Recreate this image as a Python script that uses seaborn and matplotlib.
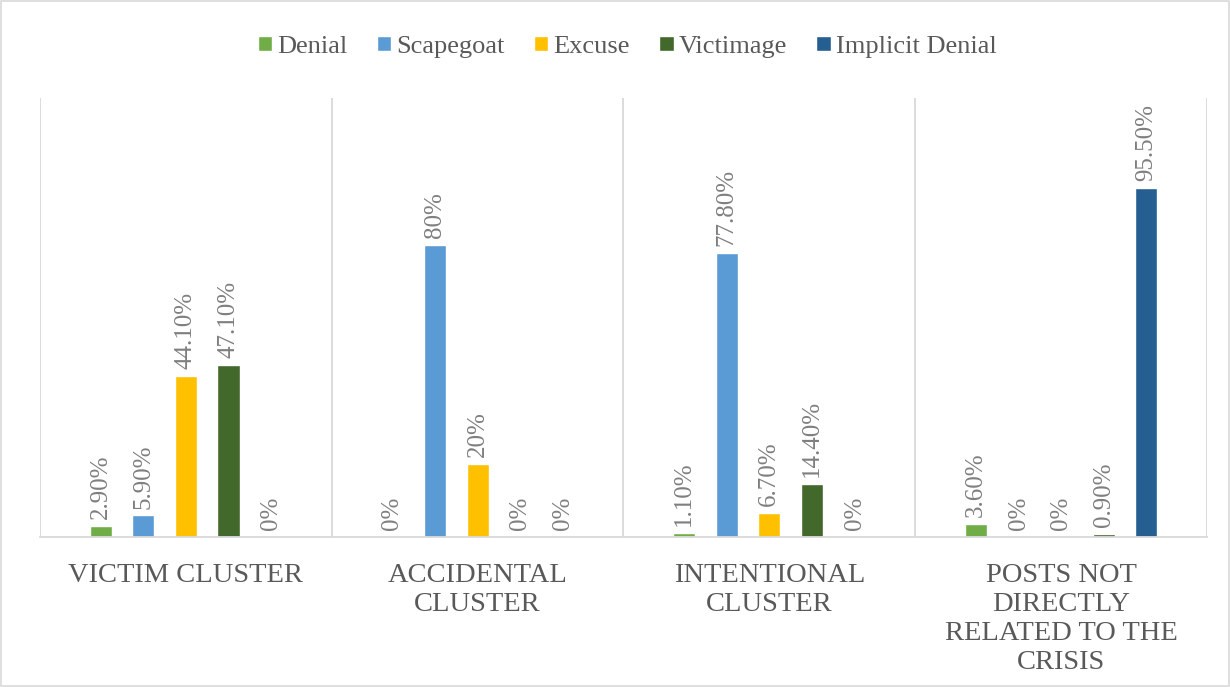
import pandas as pd
import matplotlib.pyplot as plt
import seaborn as sns
from matplotlib.patches import Rectangle

# data
clusters = ["VICTIM CLUSTER", "ACCIDENTAL\nCLUSTER", "INTENTIONAL\nCLUSTER",
            "POSTS NOT\nDIRECTLY\nRELATED TO THE\nCRISIS"]
strategies = ["Denial", "Scapegoat", "Excuse", "Victimage", "Implicit Denial"]
denial = [2.9, 0, 1.1, 3.6]
scapegoat = [5.9, 80, 77.8, 0]
excuse = [44.1, 20, 6.7, 0]
victimage = [47.1, 0, 14.4, 0.9]
implicit_denial = [0, 0, 0, 95.5]
colors = ["#70AD47", "#5B9BD5", "#FFC000", "#43682B", "#255E91"]

series = [denial, scapegoat, excuse, victimage, implicit_denial]
rows = []
for strat, vals in zip(strategies, series):
    for cl, v in zip(clusters, vals):
        rows.append({"cluster": cl, "strategy": strat, "value": v})
df = pd.DataFrame(rows)

sns.set_style("white")
plt.rcParams['font.family'] = ['Liberation Serif', 'DejaVu Serif']
gray = "#595959"
label_gray = "#7F7F7F"
grid = "#D9D9D9"

fig = plt.figure(figsize=(12.3, 6.87), dpi=100)
ax = fig.add_axes([0.0325, 0.2183, 0.9488, 0.6387])

sns.barplot(data=df, x="cluster", y="value", hue="strategy", order=clusters,
            hue_order=strategies, palette=colors, width=0.73, gap=0.48,
            saturation=1, ax=ax)

def fmt(v):
    return f"{v:.0f}%" if float(v).is_integer() else f"{v:.2f}%"

for cont, vals in zip(ax.containers, series):
    ax.bar_label(cont, labels=[fmt(v) for v in vals], rotation=90, padding=5,
                 fontsize=18, color=label_gray)

ax.set_ylim(0, 120)
ax.set_xlim(-0.5, 3.5)
for x in [-0.5, 0.5, 1.5, 2.5, 3.5]:
    ax.axvline(x, color=grid, lw=1.3, zorder=0)

for s in ["top", "left", "right"]:
    ax.spines[s].set_visible(False)
ax.spines["bottom"].set_color(grid)
ax.spines["bottom"].set_linewidth(1.3)
ax.set_yticks([])
ax.set_xlabel("")
ax.set_ylabel("")
ax.tick_params(axis="x", length=0, pad=19)
for lbl in ax.get_xticklabels():
    lbl.set_fontsize(20.5)
    lbl.set_color(gray)
    lbl.set_linespacing(1.2)
    lbl.set_verticalalignment("top")

sns.move_legend(ax, "center", bbox_to_anchor=(0.51, 0.932),
                bbox_transform=fig.transFigure, ncol=5, frameon=False,
                title=None, fontsize=19, handlelength=0.55, handleheight=0.55,
                handletextpad=0.2, columnspacing=1.1)
for t in ax.get_legend().get_texts():
    t.set_color(gray)

fig.patches.append(Rectangle((0.0008, 0.0015), 0.998, 0.997, transform=fig.transFigure,
                             fill=False, edgecolor=grid, lw=1.2))

fig.savefig("out.png", dpi=100)
